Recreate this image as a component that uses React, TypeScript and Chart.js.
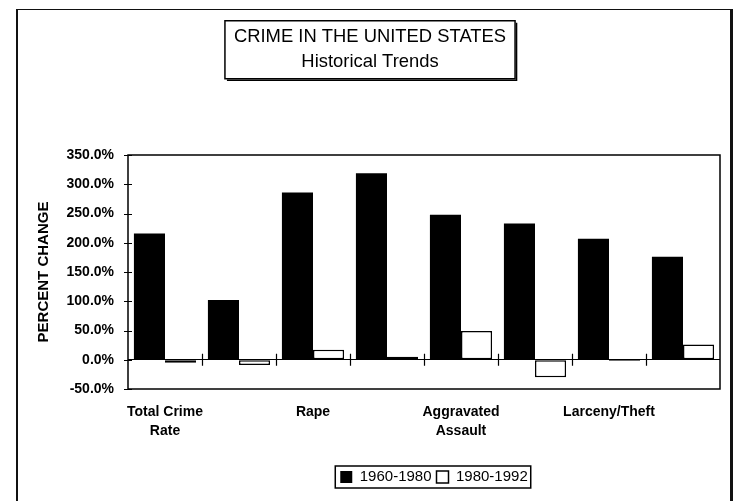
import React, { useEffect, useRef } from 'react';
import { Chart, registerables } from 'chart.js';

Chart.register(...registerables);

// ---- data ----
const categories: (string | string[])[] = [
  ['Total Crime', 'Rate'],
  'Murder',
  'Rape',
  'Robbery',
  ['Aggravated', 'Assault'],
  'Burglary',
  'Larceny/Theft',
  'Motor Vehicle Theft',
];
const change1960to1980 = [216, 102, 286, 319, 248, 233, 207, 176];
const change1980to1992 = [-5, -9, 17, 5, 49, -30, -2, 26];
const seriesNames = ['1960-1980', '1980-1992'];
const yMin = -50;
const yMax = 350;
const yStep = 50;
const titleLines = ['CRIME IN THE UNITED STATES', 'Historical Trends'];
const yAxisTitle = 'PERCENT CHANGE';

const FONT = '"Liberation Sans", Arial, Helvetica, sans-serif';

const decorPlugin = {
  id: 'decor',
  afterLayout(chart: any) {
    const lg = chart.legend;
    if (lg) {
      lg.left += 10;
      lg.right += 10;
    }
  },
  afterDatasetsDraw(chart: any) {
    const { ctx, chartArea: a, scales } = chart;
    const x = scales.x;
    const y = scales.y;
    ctx.save();
    ctx.strokeStyle = '#000';
    ctx.lineWidth = 1.5;
    ctx.strokeRect(a.left, a.top, a.right - a.left, a.bottom - a.top);
    ctx.lineWidth = 1.2;
    const y0 = y.getPixelForValue(0);
    const half = (x.getPixelForValue(1) - x.getPixelForValue(0)) / 2;
    ctx.beginPath();
    for (let i = 1; i < categories.length; i++) {
      const px = Math.round(x.getPixelForValue(i) - half) + 0.5;
      ctx.moveTo(px, y0 - 6);
      ctx.lineTo(px, y0 + 6);
    }
    for (const t of y.ticks) {
      const py = Math.round(y.getPixelForValue(t.value)) + 0.5;
      ctx.moveTo(a.left - 4, py);
      ctx.lineTo(a.left + 4, py);
    }
    ctx.stroke();
    ctx.restore();
  },
  afterDraw(chart: any) {
    const { ctx } = chart;
    ctx.save();
    ctx.strokeStyle = '#000';
    // title box
    const tb = chart.titleBlock;
    if (tb) {
      const opts = tb.options;
      ctx.font = `${opts.font.size}px ${FONT}`;
      let w = 0;
      for (const l of titleLines) w = Math.max(w, ctx.measureText(l).width);
      const cx = (tb.left + tb.right) / 2;
      const lh = opts.font.size * opts.font.lineHeight;
      const c1 = tb.top + opts.padding.top + lh / 2;
      const left = cx - w / 2 - 9;
      const right = cx + w / 2 + 9;
      const top = c1 - 16;
      const bottom = c1 + lh * (titleLines.length - 1) + 16.5;
      ctx.lineWidth = 1.5;
      ctx.strokeRect(left, top, right - left, bottom - top);
      ctx.beginPath();
      ctx.moveTo(right + 1.5, top + 2);
      ctx.lineTo(right + 1.5, bottom + 1.5);
      ctx.lineTo(left + 2, bottom + 1.5);
      ctx.stroke();
    }
    // legend box
    const lg = chart.legend;
    if (lg && lg.legendHitBoxes && lg.legendHitBoxes.length) {
      const hb = lg.legendHitBoxes;
      const first = hb[0];
      const last = hb[hb.length - 1];
      const left = first.left - 5;
      const right = last.left + last.width + 3;
      const top = first.top - 3.5;
      const bottom = first.top + first.height + 3.5;
      ctx.lineWidth = 1.5;
      ctx.strokeRect(left, top, right - left, bottom - top);
    }
    ctx.restore();
  },
};

export default function App() {
  const ref = useRef<HTMLCanvasElement | null>(null);

  useEffect(() => {
    if (!ref.current) return;
    Chart.defaults.font.family = FONT;
    Chart.defaults.color = '#000';
    const chart = new Chart(ref.current, {
      type: 'bar',
      data: {
        labels: categories as any,
        datasets: [
          {
            label: seriesNames[0],
            data: change1960to1980,
            backgroundColor: '#000',
            borderColor: '#000',
            borderWidth: 0,
            categoryPercentage: 0.84,
            barPercentage: 1,
          },
          {
            label: seriesNames[1],
            data: change1980to1992,
            backgroundColor: '#fff',
            borderColor: '#000',
            borderWidth: 1.5,
            borderSkipped: false,
            categoryPercentage: 0.84,
            barPercentage: 1,
          },
        ],
      },
      options: {
        responsive: false,
        animation: false,
        devicePixelRatio: 1,
        layout: { padding: { left: 20, right: 18, top: 14, bottom: 6.5 } },
        plugins: {
          tooltip: { enabled: false },
          title: {
            display: true,
            text: titleLines,
            color: '#000',
            font: { size: 18.4, weight: 'normal', lineHeight: 25.5 / 18.4 },
            padding: { top: 10, bottom: 80 },
          },
          legend: {
            display: true,
            position: 'bottom',
            fullSize: false,
            labels: {
              color: '#000',
              boxWidth: 12,
              boxHeight: 12,
              padding: 5,
              font: { size: 15 },
            },
          },
        },
        scales: {
          x: {
            grid: { display: false, drawTicks: false },
            border: { display: false },
            ticks: {
              autoSkip: false,
              maxRotation: 0,
              minRotation: 0,
              padding: 13,
              color: '#000',
              font: { size: 14, weight: 'bold', lineHeight: 1.4 },
              callback: function (this: any, value: any, index: number) {
                return index % 2 === 0 ? this.getLabelForValue(value) : '';
              },
            },
            afterFit: (scale: any) => {
              scale.height = 75.5;
            },
          },
          y: {
            min: yMin,
            max: yMax,
            grid: {
              drawTicks: false,
              lineWidth: 1,
              color: (c: any) => (c.tick && c.tick.value === 0 ? '#000' : 'rgba(0,0,0,0)'),
            },
            border: { display: false },
            ticks: {
              stepSize: yStep,
              padding: 14,
              color: '#000',
              font: { size: 14, weight: 'bold' },
              callback: (v: any) => Number(v).toFixed(1) + '%',
            },
            title: {
              display: true,
              text: yAxisTitle,
              color: '#000',
              font: { size: 15, weight: 'bold' },
              padding: { top: 15, bottom: 0 },
            },
            afterFit: (scale: any) => {
              scale.width = 108;
            },
          },
        },
      },
      plugins: [decorPlugin],
    } as any);
    return () => chart.destroy();
  }, []);

  return (
    <div
      style={{
        position: 'fixed',
        left: 0,
        top: 0,
        width: 738,
        height: 501,
        background: '#fff',
        overflow: 'hidden',
      }}
    >
      <div
        style={{
          position: 'absolute',
          left: 16,
          top: 9,
          width: 717,
          height: 600,
          boxSizing: 'border-box',
          borderLeft: '2px solid #111',
          borderTop: '1.5px solid #111',
          borderRight: '3px solid #111',
        }}
      />
      <canvas
        ref={ref}
        width={738}
        height={501}
        style={{ position: 'absolute', left: 0, top: 0, width: 738, height: 501 }}
      />
    </div>
  );
}
